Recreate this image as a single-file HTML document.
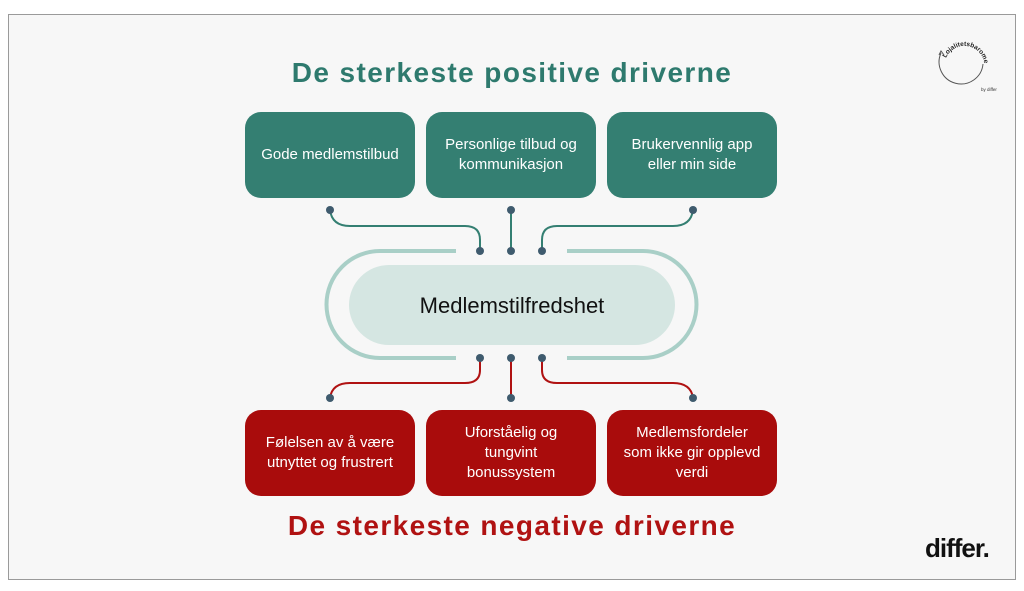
<!DOCTYPE html><html><head><style>
body{margin:0;width:1024px;height:591px;background:#fff;font-family:"Liberation Sans",sans-serif;position:relative;overflow:hidden}
.frame{position:absolute;left:8px;top:14px;width:1006px;height:564px;border:1.5px solid #9a9a9a;background:#f7f7f7}
.t{position:absolute;left:0;width:1024px;text-align:center;font-weight:bold;font-size:28px;letter-spacing:1.4px}
.b{position:absolute;width:170px;height:86px;border-radius:16px;color:#fff;font-size:15px;line-height:20px;display:flex;align-items:center;justify-content:center;text-align:center;padding:0 4px;box-sizing:border-box;white-space:nowrap}
.g{background:#347f72;top:112px}.r{background:#a90c0c;top:410px}
</style></head><body>
<div class="frame"></div>
<div class="t" style="top:57px;color:#2e7a6e">De sterkeste positive driverne</div>
<div class="t" style="top:510px;color:#b01212">De sterkeste negative driverne</div>
<div class="b g" style="left:245px">Gode medlemstilbud</div>
<div class="b g" style="left:426px">Personlige tilbud og<br>kommunikasjon</div>
<div class="b g" style="left:607px">Brukervennlig app<br>eller min side</div>
<div class="b r" style="left:245px">Følelsen av å være<br>utnyttet og frustrert</div>
<div class="b r" style="left:426px">Uforståelig og<br>tungvint<br>bonussystem</div>
<div class="b r" style="left:607px">Medlemsfordeler<br>som ikke gir opplevd<br>verdi</div>
<svg style="position:absolute;left:0;top:0" width="1024" height="591">
<path d="M456 251 H380 A53 53 0 0 0 380 358 H456 M567 251 H643 A53 53 0 0 1 643 358 H567" fill="none" stroke="#a9cfc7" stroke-width="4"/>
<rect x="349" y="265" width="326" height="80" rx="40" fill="#d5e6e2"/>
<text x="512" y="313" text-anchor="middle" font-size="22" font-family="Liberation Sans" fill="#111">Medlemstilfredshet</text>
<g fill="none" stroke="#347f72" stroke-width="2">
<path d="M330 210 Q332 226 350 226 H465 Q480 226 480 240 V251"/>
<path d="M511 210 V251"/>
<path d="M693 210 Q691 226 673 226 H557 Q542 226 542 240 V251"/></g>
<g fill="none" stroke="#b01212" stroke-width="2">
<path d="M480 358 V370 Q480 383 465 383 H350 Q332 383 330 398"/>
<path d="M511 358 V398"/>
<path d="M542 358 V370 Q542 383 557 383 H673 Q691 383 693 398"/></g>
<g fill="#3f5b6e">
<circle cx="330" cy="210" r="4"/><circle cx="511" cy="210" r="4"/><circle cx="693" cy="210" r="4"/>
<circle cx="480" cy="251" r="4"/><circle cx="511" cy="251" r="4"/><circle cx="542" cy="251" r="4"/>
<circle cx="480" cy="358" r="4"/><circle cx="511" cy="358" r="4"/><circle cx="542" cy="358" r="4"/>
<circle cx="330" cy="398" r="4"/><circle cx="511" cy="398" r="4"/><circle cx="693" cy="398" r="4"/></g>
<path d="M941 53 A22 22 0 1 0 983 64" fill="none" stroke="#555" stroke-width="1"/>
<path d="M939 55 L941 51 L944 55" fill="none" stroke="#555" stroke-width="1"/>
<path id="arc" d="M946 58 A20 20 0 0 1 984 62" fill="none"/>
<text font-size="6.5" fill="#222" font-weight="bold"><textPath href="#arc">Lojalitetsbarometeret</textPath></text>
<text x="981" y="91" font-size="4.5" fill="#333">by differ</text>
<text x="925" y="557" font-size="26" font-weight="bold" fill="#111" letter-spacing="-1">differ.</text>
</svg>
</body></html>
